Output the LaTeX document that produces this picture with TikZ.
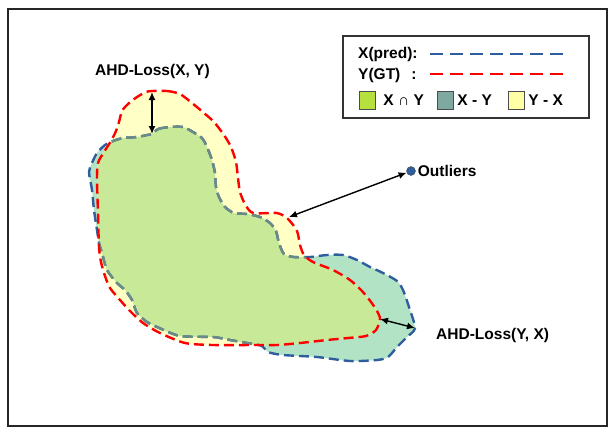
\documentclass[tikz,border=0pt]{standalone}
\usepackage{fontspec}
\setmainfont{Liberation Sans}
\usetikzlibrary{positioning,arrows.meta}
\definecolor{predblue}{HTML}{2E5E9E}
\definecolor{predgrey}{HTML}{6B8B86}
\definecolor{xyfill}{HTML}{C8EA98}
\definecolor{xonly}{HTML}{B3E3C5}
\definecolor{yonly}{HTML}{FFFFC6}
\definecolor{keyxy}{HTML}{B6E03E}
\definecolor{keyx}{HTML}{7FA8A1}
\definecolor{keyy}{HTML}{FFFFA6}
\def\gtshape{plot[smooth cycle, tension=0.45] coordinates {(152,91) (167,91) (180,94) (192,103) (204,113) (214,122) (224,135) (231,147) (236,162) (238,178) (240,192) (245,204) (253,213) (277,213) (288,219) (297,231) (300,245) (304,255) (313,262) (333,270) (350,280) (362,291) (371,302) (377,311) (380,319) (376,330) (366,336) (348,338) (327,340) (300,343) (277,345) (255,345) (213,345) (185,343) (160,333) (143,323) (130,311) (120,300) (110,288) (105,276) (101,262) (99,247) (98,213) (97,180) (98,163) (104,152) (111,141) (116,131) (119,122) (122,111) (128,104) (137,97) (146,92)}}
\def\predshape{plot[smooth cycle, tension=0.45] coordinates {(152,134) (158,129) (170,127) (183,127) (193,132) (202,138) (207,147) (212,160) (215,173) (216,187) (219,197) (225,207) (234,213) (247,214) (260,217) (270,223) (276,231) (279,243) (284,254) (294,257) (310,257) (327,255) (343,255) (357,260) (370,267) (383,273) (397,281) (403,290) (409,307) (415,328) (407,337) (397,347) (388,357) (377,360) (350,361) (317,357) (283,355) (268,352) (262,346) (247,343) (230,340) (213,337) (180,336) (157,327) (147,322) (137,313) (132,300) (125,290) (117,283) (107,270) (102,253) (99,243) (97,230) (94,210) (92,190) (89,172) (92,163) (97,153) (105,145) (113,141) (123,138) (137,137) (147,135)}}
\begin{document}
\begin{tikzpicture}[x=1pt,y=-1pt,font=\fontsize{15.5}{18}\selectfont\bfseries,
	lbl/.style={inner sep=0pt, anchor=base west},
	predline/.style={draw=predblue, line width=2.4pt, dash pattern=on 10pt off 5pt},
	gtline/.style={draw=red, line width=2.4pt, dash pattern=on 10pt off 5pt},
	swatch/.style={draw=black!70, minimum width=16pt, minimum height=18pt, inner sep=0pt},
	dist/.style={{Latex[length=8pt,width=7pt]}-{Latex[length=8pt,width=7pt]}, line width=1.4pt}]
				\useasboundingbox (0,0) rectangle (615,437);
				\draw[line width=2pt, black!85] (8,9) rectangle (607,426);
				\fill[xonly] \predshape;
				\fill[yonly] \gtshape;
				\begin{scope}
					\clip \gtshape;
					\fill[xyfill] \predshape;
				\end{scope}
				\draw[predline] \predshape;
				\begin{scope}
					\clip \gtshape;
					\draw[predline, draw=predgrey] \predshape;
				\end{scope}
				\draw[gtline] \gtshape;
				\coordinate (ytop) at (152,92);
				\coordinate (xtop) at (152,134);
				\coordinate (ytip) at (380,319);
				\coordinate (xtip) at (415,328);
				\coordinate (ygap) at (289,217);
				\node (lossxy) [lbl] at (95,75) {AHD-Loss(X, Y)};
				\node (lossyx) [lbl] at (436,339) {AHD-Loss(Y, X)};
				\node (odot) [circle, fill=predblue, draw=black!70, minimum size=9pt, inner sep=0pt] at (411,171) {};
				\node (otxt) [right=2pt of odot, inner sep=0pt] {Outliers};
				\draw[dist] (ytop) -- (xtop);
				\draw[dist] (ytip) -- (xtip);
				\draw[dist] (ygap) -- (odot);
				\draw[line width=1.4pt, black!80] (343,36) rectangle (589,118);
				\node (kx) [lbl] at (358,58) {X(pred):};
				\node (ky) [lbl] at (358,79) {Y(GT)\hspace{11pt}:};
				\coordinate (kxa) at (430,54);
				\coordinate (kxb) at (567,54);
				\coordinate (kya) at (430,74);
				\coordinate (kyb) at (567,74);
				\draw[predline, dash pattern=on 13pt off 7pt] (kxa) -- (kxb);
				\draw[gtline, dash pattern=on 13pt off 7pt] (kya) -- (kyb);
				\node (sqxy) [swatch, fill=keyxy] at (367,100) {};
				\node (txy) [right=8pt of sqxy, inner sep=0pt] {X ∩ Y};
				\node (sqx) [swatch, fill=keyx] at (445,100) {};
				\node (tx) [right=4pt of sqx, inner sep=0pt] {X - Y};
				\node (sqy) [swatch, fill=keyy] at (516,100) {};
				\node (ty) [right=4pt of sqy, inner sep=0pt] {Y - X};
			\end{tikzpicture}
\end{document}
